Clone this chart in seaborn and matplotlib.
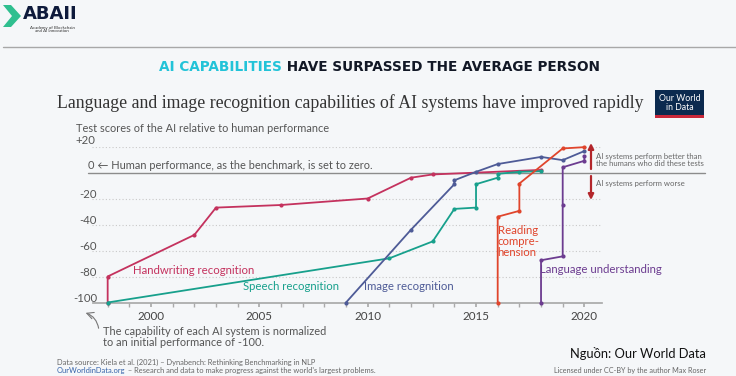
import pandas as pd
import seaborn as sns
import matplotlib.pyplot as plt
import matplotlib.transforms as mtransforms
from matplotlib.patches import Polygon, Rectangle

# Dữ liệu (điểm so với con người, con người = 0)
years_handwriting = [1998, 1998, 2002, 2003, 2006, 2010, 2012, 2013, 2018]
score_handwriting = [-100, -80, -48, -27, -25, -20, -4, -1.5, 2]

years_speech = [1998, 2011, 2013, 2014, 2015, 2015, 2016, 2016, 2017, 2018]
score_speech = [-100, -66, -53, -28, -27, -9, -4, -1, 0.5, 1]

years_image = [2009, 2012, 2014, 2014, 2015, 2016, 2018, 2019, 2020]
score_image = [-100, -44, -9, -6, 0.5, 6.5, 12, 9.5, 16.5]

years_reading = [2016, 2016, 2017, 2017, 2019, 2020]
score_reading = [-100, -34, -29.5, -8.5, 18.5, 19.5]

years_language = [2018, 2018, 2019, 2019, 2019, 2020, 2020]
score_language = [-100, -67.5, -64.5, -25, 4, 9, 12.5]

x_ticks = [2000, 2005, 2010, 2015, 2020]
y_ticks = [-100, -80, -60, -40, -20]

series = [
    ("Handwriting recognition", years_handwriting, score_handwriting, "#C4325E"),
    ("Speech recognition", years_speech, score_speech, "#17A08C"),
    ("Image recognition", years_image, score_image, "#4E5B97"),
    ("Reading comprehension", years_reading, score_reading, "#E0452C"),
    ("Language understanding", years_language, score_language, "#6C3C90"),
]

sns.set_theme(style="white")
plt.rcParams["font.family"] = ["Lato", "DejaVu Sans"]

W, H = 736, 376
BG = "#F5F7F9"


def px(x, y):
    return x / W, 1 - y / H


fig = plt.figure(figsize=(W / 100, H / 100), dpi=100, facecolor=BG)
ax = fig.add_axes([92.5 / W, (H - 302.5) / H, 509.2 / W, 156 / H])
ax.set_facecolor(BG)

for name, xs, ys, col in series:
    df = pd.DataFrame({"year": xs, "score": ys})
    sns.lineplot(data=df, x="year", y="score", ax=ax, color=col, lw=1.3,
                 marker="o", markersize=3, markeredgewidth=0,
                 estimator=None, sort=False, clip_on=False, zorder=3)

ax.set_xlim(1997.3, 2020.8)
ax.set_ylim(-100, 20)
ax.set_xlabel("")
ax.set_ylabel("")

# Lưới chấm và đường chuẩn 0
for v in [-80, -60, -40, -20, 20]:
    ax.axhline(v, color="#c9c9c9", lw=0.8, ls=(0, (1, 2)), zorder=0)
blend = mtransforms.blended_transform_factory(ax.transAxes, ax.transData)
ax.plot([-0.009, 1.203], [0, 0], transform=blend, color="#8c8c8c", lw=1,
        clip_on=False, zorder=1)

for s in ["top", "right", "left"]:
    ax.spines[s].set_visible(False)
ax.spines["bottom"].set_color("#aaaaaa")
ax.set_xticks(x_ticks)
ax.set_xticks(range(1998, 2021), minor=True)
ax.set_yticks([])
ax.tick_params(axis="x", which="both", bottom=True, direction="out", length=3,
               color="#aaaaaa", labelsize=8.4, labelcolor="#444444", pad=3)

for v in y_ticks:
    ax.annotate(str(v), xy=(0, v), xycoords=("axes fraction", "data"),
                xytext=(3.2, 3), textcoords="offset points", ha="right",
                va="center", fontsize=8.2, color="#555555")
ax.annotate("+20", xy=(0, 20), xycoords=("axes fraction", "data"),
            xytext=(-12.1, 4), textcoords="offset points", ha="left",
            va="center", fontsize=8.2, color="#555555")
ax.annotate("0 ← Human performance, as the benchmark, is set to zero.",
            xy=(0, 0), xycoords=("axes fraction", "data"), xytext=(-3, 5.3),
            textcoords="offset points", ha="left", va="center", fontsize=7.95,
            color="#555555")

# Nhãn các đường
lab = dict(fontsize=8.2, va="center", ha="left")
ax.text(1999.16, -75, "Handwriting recognition", color="#C4325E", **lab)
ax.text(2004.25, -87.5, "Speech recognition", color="#17A08C", **lab)
ax.text(2009.83, -88, "Image recognition", color="#4E5B97", **lab)
ax.text(2016.0, -53.4, "Reading\ncompre-\nhension", color="#E0452C",
        linespacing=1.0, **lab)
ax.text(2017.95, -74.4, "Language understanding", color="#6C3C90", **lab)

# Chú thích bên phải
for y0, y1 in [(169, 143), (176, 200)]:
    ax.annotate("", xy=px(591, y1), xytext=px(591, y0), xycoords="figure fraction",
                arrowprops=dict(arrowstyle="-|>", color="#B3262B", lw=1.6,
                                mutation_scale=8, shrinkA=0, shrinkB=0))
fig.text(*px(596, 160), "AI systems perform better than\nthe humans who did these tests",
         fontsize=5.6, color="#666666", va="center", linespacing=1.05)
fig.text(*px(596, 184), "AI systems perform worse", fontsize=5.6,
         color="#666666", va="center")

# Chú thích -100
ax.annotate("", xy=px(83, 312), xytext=px(99, 331), xycoords="figure fraction",
            arrowprops=dict(arrowstyle="->", color="#777777", lw=0.8,
                            connectionstyle="arc3,rad=0.35"))
fig.text(*px(103, 337), "The capability of each AI system is normalized\n"
         "to an initial performance of -100.", fontsize=7.95, color="#555555",
         va="center", linespacing=1.0)

# Tiêu đề và phụ đề
fig.text(*px(57, 103), "Language and image recognition capabilities of AI "
         "systems have improved rapidly", family=["Liberation Serif"],
         fontsize=12.8, color="#333333", va="center")
fig.text(*px(75.7, 128.5), "Test scores of the AI relative to human performance",
         fontsize=7.95, color="#555555", va="center")

t1 = fig.text(*px(159, 67), "AI CAPABILITIES", family=["DejaVu Sans"],
              weight="bold", fontsize=9.8, color="#22C3D8", va="center")
ax.annotate(" HAVE SURPASSED THE AVERAGE PERSON", xy=(1, 0.5), xycoords=t1,
            va="center", ha="left", family=["DejaVu Sans"], weight="bold",
            fontsize=9.8, color="#121826", annotation_clip=False)

# Logo Our World in Data
fig.add_artist(Rectangle(px(655, 115), 49 / W, 25 / H, transform=fig.transFigure,
                         facecolor="#0B2A4F", edgecolor="none"))
fig.add_artist(Rectangle(px(655, 118), 49 / W, 3 / H, transform=fig.transFigure,
                         facecolor="#C9283A", edgecolor="none"))
fig.text(*px(679.5, 103), "Our World\nin Data", fontsize=6.3, color="white",
         ha="center", va="center", linespacing=0.95)

# Logo ABAII và đường kẻ
fig.add_artist(Polygon([px(3, 5), px(11, 5), px(21, 16), px(11, 27), px(3, 27),
                        px(12, 16)], closed=True, transform=fig.transFigure,
                       facecolor="#2FBF8F", edgecolor="none"))
fig.text(*px(23, 19), "ABAII", family=["DejaVu Sans"], weight="bold",
         fontsize=13, color="#0E1A3B", va="baseline")
fig.text(*px(52, 25.5), "Academy of Blockchain\nand AI Innovation", fontsize=3.2,
         color="#333333", ha="center", va="top", linespacing=0.95)
line_y = 1 - 47 / H
fig.add_artist(plt.Line2D([3 / W, 1], [line_y, line_y], transform=fig.transFigure,
                          color="#a8a8a8", lw=1))

# Nguồn
fig.text(*px(57, 362), "Data source: Kiela et al. (2021) – Dynabench: Rethinking "
         "Benchmarking in NLP", fontsize=5.4, color="#666666", va="center")
s1 = fig.text(*px(57, 371), "OurWorldinData.org", fontsize=5.4, color="#3361A8",
              va="center")
ax.annotate(" – Research and data to make progress against the world's largest "
            "problems.", xy=(1, 0.5), xycoords=s1, va="center", ha="left",
            fontsize=5.4, color="#666666", annotation_clip=False)
fig.text(*px(706, 354), "Nguồn: Our World Data", fontsize=9.3, color="#111111",
         ha="right", va="center")
fig.text(*px(706, 371), "Licensed under CC-BY by the author Max Roser",
         fontsize=5.2, color="#666666", ha="right", va="center")

fig.savefig("out.png", dpi=100, facecolor=fig.get_facecolor())
